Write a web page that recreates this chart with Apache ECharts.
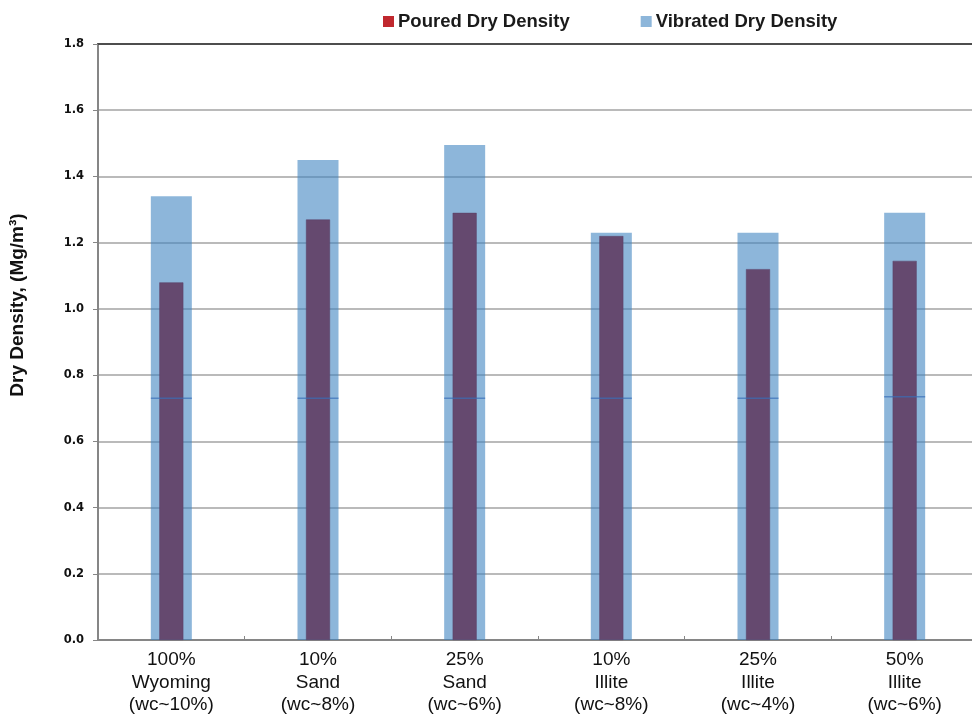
<!DOCTYPE html>
<html>
<head>
<meta charset="utf-8">
<script src="https://cdn.jsdelivr.net/npm/echarts@6/dist/echarts.min.js"></script>
<style>
  html, body { margin: 0; padding: 0; background: #fff; overflow: hidden; }
  #chart { width: 980px; height: 719px; }
</style>
</head>
<body>
<div id="chart"></div>
<script>
// Mixture categories (three-line labels)
const categories = [
  '100%\nWyoming\n(wc~10%)',
  '10%\nSand\n(wc~8%)',
  '25%\nSand\n(wc~6%)',
  '10%\nIllite\n(wc~8%)',
  '25%\nIllite\n(wc~4%)',
  '50%\nIllite\n(wc~6%)'
];
// Dry densities, Mg/m3
const pouredDensity   = [1.08, 1.27, 1.29, 1.22, 1.12, 1.145];
const vibratedDensity = [1.34, 1.45, 1.495, 1.23, 1.23, 1.29];
// thin reference marks drawn across each column
const referenceLevel  = [0.73, 0.73, 0.73, 0.73, 0.73, 0.735];
// y-axis ticks
const yTicks = { min: 0, max: 1.8, interval: 0.2 };

const chart = echarts.init(document.getElementById('chart'), null, { renderer: 'canvas' });

const catAxisBase = {
  type: 'category',
  data: categories,
  boundaryGap: true
};

chart.setOption({
  backgroundColor: '#ffffff',
  animation: false,
  grid: { left: 98, right: 2, top: 44, bottom: 79, containLabel: false },
  legend: {
    top: 7,
    left: 378,
    itemGap: 71,
    itemWidth: 11,
    itemHeight: 11,
    icon: 'rect',
    textStyle: { fontFamily: 'Liberation Sans, Arial, sans-serif', fontWeight: 'bold', fontSize: 18.5, color: '#1a1a1a', padding: [0, 0, 0, -1] },
    data: [
      { name: 'Poured Dry Density', itemStyle: { color: '#c0282e', borderWidth: 0 } },
      { name: 'Vibrated Dry Density', itemStyle: { color: '#8db6da', borderWidth: 0 } }
    ]
  },
  graphic: [
    {
      type: 'text',
      x: 18,
      y: 305,
      rotation: Math.PI / 2,
      style: {
        text: 'Dry Density, (Mg/m³)',
        fontFamily: 'Liberation Sans, Arial, sans-serif',
        fontWeight: 'bold',
        fontSize: 19,
        fill: '#111',
        align: 'center',
        verticalAlign: 'middle'
      }
    }
  ],
  xAxis: [
    Object.assign({}, catAxisBase, {
      position: 'bottom',
      axisLine: { show: true, lineStyle: { color: '#868686', width: 2 } },
      axisTick: { show: true, inside: true, length: 4, lineStyle: { color: '#868686' } },
      axisLabel: {
        margin: 9,
        fontFamily: 'Liberation Sans, Arial, sans-serif',
        fontSize: 19,
        lineHeight: 22.5,
        color: '#111',
        interval: 0
      }
    }),
    Object.assign({}, catAxisBase, {
      position: 'top',
      axisLine: { show: true, lineStyle: { color: '#4d4d4d', width: 2 } },
      axisTick: { show: false },
      axisLabel: { show: false }
    })
  ],
  yAxis: {
    type: 'value',
    min: yTicks.min,
    max: yTicks.max,
    interval: yTicks.interval,
    axisLine: { show: true, lineStyle: { color: '#868686', width: 2 } },
    axisTick: { show: true, length: 5, lineStyle: { color: '#868686' } },
    axisLabel: {
      margin: 14,
      fontFamily: 'DejaVu Sans, Verdana, sans-serif',
      fontWeight: 'bold',
      fontSize: 11.5,
      color: '#111',
      formatter: v => v.toFixed(1)
    },
    splitLine: { show: true, lineStyle: { color: '#a3a3a3', width: 1.5 } }
  },
  series: [
    {
      name: 'Vibrated Dry Density',
      type: 'bar',
      xAxisIndex: 1,
      data: vibratedDensity,
      barWidth: 41,
      z: 2,
      itemStyle: { color: 'rgba(65,133,193,0.6)' }
    },
    {
      name: 'Poured Dry Density',
      type: 'bar',
      xAxisIndex: 0,
      data: pouredDensity,
      barWidth: 24,
      z: 3,
      itemStyle: { color: '#65496f', borderColor: '#5b4066', borderWidth: 0.5 }
    },
    {
      name: 'reference',
      type: 'scatter',
      xAxisIndex: 0,
      data: referenceLevel,
      symbol: 'rect',
      symbolSize: [41, 1.5],
      silent: true,
      z: 4,
      itemStyle: { color: 'rgba(55,110,185,0.85)' }
    }
  ]
});
</script>
</body>
</html>
